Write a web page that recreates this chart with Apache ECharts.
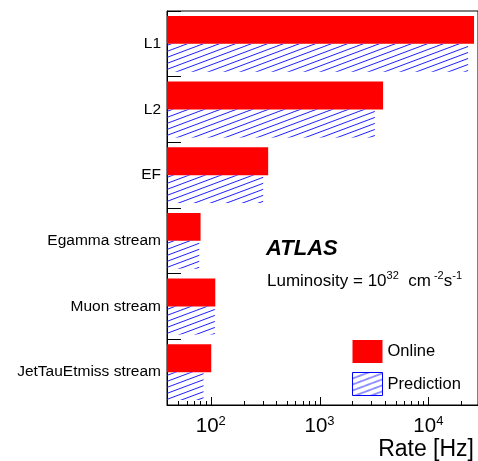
<!DOCTYPE html>
<html>
<head>
<meta charset="utf-8">
<script src="https://cdn.jsdelivr.net/npm/echarts@6/dist/echarts.min.js"></script>
<style>
html,body{margin:0;padding:0;background:#fff;}
#chart{width:478px;height:461px;}
</style>
</head>
<body>
<div id="chart"></div>
<script>
// ---- data ----
var categories = ['L1', 'L2', 'EF', 'Egamma stream', 'Muon stream', 'JetTauEtmiss stream'];
var onlineRates = [26300, 3835, 337, 80.6, 110, 101];
var predictionRates = [23200, 3220, 303, 78.3, 109, 85.8];
var majorTicks = [100, 1000, 10000];
var minorTicks = [50, 60, 70, 80, 90, 200, 300, 400, 500, 600, 700, 800, 900,
                  2000, 3000, 4000, 5000, 6000, 7000, 8000, 9000, 20000];
var xMin = 39.6, xMax = 28600;

var FONT = 'Liberation Sans, Arial, Helvetica, sans-serif';

// hatch pattern
function makeHatch() {
  var W = 16, H = 6;
  var c = document.createElement('canvas');
  c.width = W; c.height = H;
  var ctx = c.getContext('2d');
  ctx.strokeStyle = '#1f1fff';
  ctx.lineWidth = 1;
  for (var k = -1; k <= 1; k++) {
    ctx.beginPath();
    ctx.moveTo(-2, H + 2 * H / W + k * H);
    ctx.lineTo(W + 2, -2 * H / W + k * H);
    ctx.stroke();
  }
  return c;
}
var hatch = makeHatch();

var tickData = [];
majorTicks.forEach(function (v) { tickData.push([v, 0, 1]); });
minorTicks.forEach(function (v) { tickData.push([v, 0, 0]); });

var chart = echarts.init(document.getElementById('chart'), null, {renderer: 'canvas'});

function isPow10(v) {
  var l = Math.log10(v);
  return Math.abs(l - Math.round(l)) < 1e-6;
}

var option = {
  animation: false,
  backgroundColor: '#fff',
  grid: {
    left: 167, top: 11, bottom: 56, right: -2,
    show: true, borderColor: '#000', borderWidth: 1, backgroundColor: 'transparent'
  },
  legend: {
    orient: 'vertical',
    left: 352, top: 340,
    padding: 0,
    itemWidth: 30, itemHeight: 23, itemGap: 9,
    icon: 'rect',
    selectedMode: false,
    textStyle: {fontFamily: FONT, fontSize: 16.5, color: '#000'},
    data: [
      {name: 'Online'},
      {name: 'Prediction', itemStyle: {borderColor: '#0000ff', borderWidth: 1}}
    ]
  },
  xAxis: {
    type: 'log',
    logBase: 10,
    min: xMin, max: xMax,
    axisLine: {show: true, lineStyle: {color: '#000', width: 1}},
    axisTick: {show: false},
    splitLine: {show: false},
    axisLabel: {
      margin: 10,
      showMinLabel: false, showMaxLabel: false,
      formatter: function (v) {
        if (!isPow10(v)) return '';
        return '{b|10}{s|' + Math.round(Math.log10(v)) + '}';
      },
      rich: {
        b: {fontFamily: FONT, fontSize: 20.5, color: '#000', lineHeight: 22, verticalAlign: 'bottom'},
        s: {fontFamily: FONT, fontSize: 13, color: '#000', lineHeight: 14, verticalAlign: 'top'}
      }
    }
  },
  yAxis: {
    type: 'category',
    inverse: true,
    data: categories,
    axisLine: {show: true, lineStyle: {color: '#000', width: 1}},
    axisTick: {show: true, inside: true, length: 14, lineStyle: {color: '#000'}},
    axisLabel: {fontFamily: FONT, fontSize: 15.5, color: '#000', margin: 6}
  },
  series: [
    {
      name: 'Online', type: 'bar', data: onlineRates,
      barGap: '0%', barCategoryGap: '15%',
      itemStyle: {color: '#ff0000'}
    },
    {
      name: 'Prediction', type: 'bar', data: predictionRates,
      barGap: '0%', barCategoryGap: '15%',
      itemStyle: {color: {image: hatch, repeat: 'repeat'}}
    },
    {
      name: 'ticks', type: 'custom', silent: true, clip: false,
      data: tickData,
      encode: {x: 0, y: 1},
      renderItem: function (params, api) {
        var p = api.coord([api.value(0), 0]);
        var cs = params.coordSys;
        var yb = cs.y + cs.height;
        var len = api.value(2) ? 8 : 4;
        var x = Math.round(p[0]) + 0.5;
        return {
          type: 'line',
          shape: {x1: x, y1: yb, x2: x, y2: yb - len},
          style: {stroke: '#000', lineWidth: 1}
        };
      }
    }
  ],
  graphic: [
    {
      type: 'text', left: 266, top: 238,
      style: {text: 'ATLAS', font: 'italic bold 22px ' + FONT, fill: '#000'}
    },
    {
      type: 'text', left: 267, top: 270,
      style: {
        text: '{a|Luminosity = 10}{s|32}{a|  cm}{s| -2}{a|s}{s|-1}',
        rich: {
          a: {fontFamily: FONT, fontSize: 17, fill: '#000', lineHeight: 20, verticalAlign: 'bottom'},
          s: {fontFamily: FONT, fontSize: 11, fill: '#000', lineHeight: 12, verticalAlign: 'top'}
        }
      }
    },
    {
      type: 'text', right: 4, top: 438,
      style: {text: 'Rate [Hz]', font: '23px ' + FONT, fill: '#000'}
    }
  ]
};
chart.setOption(option);
</script>
</body>
</html>
